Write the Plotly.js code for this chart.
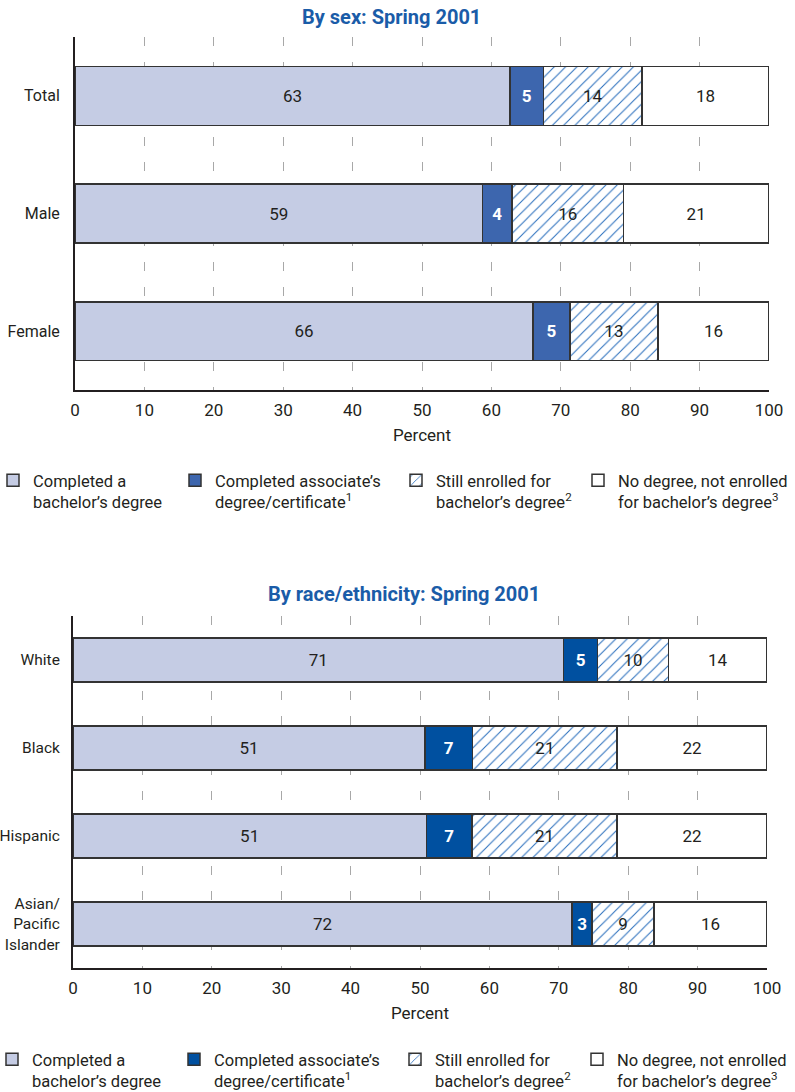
<!DOCTYPE html>
<html>
<head>
<meta charset="utf-8">
<script src="https://cdn.plot.ly/plotly-3.0.1.min.js"></script>
<style>html,body{margin:0;padding:0;background:#fff}#chart{width:795px;height:1092px}</style>
</head>
<body>
<div id="chart"></div>
<script>
// ---- Data ----
var sexCategories = ["Total", "Male", "Female"];
var sexBachelor   = [62.7, 58.7, 66.0];
var sexAssociate  = [4.8, 4.3, 5.3];
var sexEnrolled   = [14.2, 16.0, 12.7];
var sexNone       = [18.3, 21.0, 16.0];

var raceCategories = ["White", "Black", "Hispanic", "Asian/<br>Pacific<br>Islander"];
var raceBachelor   = [70.7, 50.7, 50.9, 71.9];
var raceAssociate  = [4.9, 6.9, 6.6, 2.9];
var raceEnrolled   = [10.2, 20.8, 20.9, 8.9];
var raceNone       = [14.2, 21.6, 21.6, 16.3];

var seriesNames = [
  "Completed a<br>bachelor’s degree",
  "Completed associate’s<br>degree/certificate<sup>1</sup>",
  "Still enrolled for<br>bachelor’s degree<sup>2</sup>",
  "No degree, not enrolled<br>for bachelor’s degree<sup>3</sup>"
];
var xTicks = [0,10,20,30,40,50,60,70,80,90,100];

// ---- Styles ----
var FONT = "Roboto, 'Open Sans', sans-serif";
var TXT = "#231f20";
var OUTLINE = {color: "#333333", width: 1.5};
var bachelorColor = "#c5cce4";
var assocColorTop = "#3d66ae";
var assocColorBottom = "#0050a0";
var hatchColor = "#2a6fbd";

function makeTraces(cats, vals, xa, ya, assocColor, legendIds) {
  var fills = [
    {color: bachelorColor, line: OUTLINE},
    {color: assocColor, line: OUTLINE},
    {color: "#ffffff", line: OUTLINE, pattern: {shape: "/", fgcolor: hatchColor, bgcolor: "#ffffff", size: 8, solidity: 0.13, fillmode: "replace"}},
    {color: "#ffffff", line: OUTLINE}
  ];
  var textColors = [TXT, "#ffffff", TXT, TXT];
  return vals.map(function (v, i) {
    return {
      type: "bar", orientation: "h",
      y: cats, x: v,
      xaxis: xa, yaxis: ya,
      name: seriesNames[i],
      legend: legendIds[i],
      marker: fills[i],
      texttemplate: "%{x:.0f}",
      textposition: "inside",
      insidetextanchor: "middle",
      textangle: 0,
      constraintext: "none",
      textfont: {family: FONT, size: 17, color: textColors[i], weight: i === 1 ? 700 : 400},
      hoverinfo: "skip"
    };
  });
}

var traces = [].concat(
  makeTraces(sexCategories, [sexBachelor, sexAssociate, sexEnrolled, sexNone], "x", "y", assocColorTop,
             ["legend", "legend2", "legend3", "legend4"]),
  makeTraces(raceCategories, [raceBachelor, raceAssociate, raceEnrolled, raceNone], "x2", "y2", assocColorBottom,
             ["legend5", "legend6", "legend7", "legend8"])
);

function xAxis(domain, anchor) {
  return {
    domain: domain, anchor: anchor, range: [0, 100],
    tickvals: xTicks, ticktext: xTicks.map(String),
    showgrid: true, gridcolor: "#a8a8a8", gridwidth: 1, griddash: "9px,16px",
    zeroline: false, showline: true, linecolor: "#231f20", linewidth: 2,
    ticks: "", ticklabelstandoff: 4,
    tickfont: {family: FONT, size: 17, color: TXT},
    title: {text: "Percent", font: {family: FONT, size: 17, color: TXT}, standoff: 10},
    automargin: false,
    fixedrange: true
  };
}
function yAxis(domain, anchor, fontSize, standoff) {
  return {
    domain: domain, anchor: anchor, autorange: "reversed",
    showgrid: false, zeroline: false, showline: true, linecolor: "#231f20", linewidth: 2,
    ticks: "", ticklabelstandoff: standoff,
    tickfont: {family: FONT, size: fontSize, color: TXT},
    automargin: false,
    fixedrange: true
  };
}

var W = 795, H = 1092;
function px(x) { return x / W; }
function py(y) { return (H - y) / H; }

function legendAt(x, y) {
  return {
    x: px(x), y: py(y), xanchor: "left", yanchor: "top",
    bgcolor: "rgba(0,0,0,0)", borderwidth: 0, valign: "top",
    font: {family: FONT, size: 16.5, color: TXT},
    itemclick: false, itemdoubleclick: false, tracegroupgap: 0
  };
}

var layout = {
  width: W, height: H,
  margin: {l: 0, r: 0, t: 0, b: 0, autoexpand: false},
  paper_bgcolor: "#ffffff", plot_bgcolor: "rgba(0,0,0,0)",
  barmode: "stack", bargap: 0.5,
  showlegend: true,
  xaxis: xAxis([px(75), px(769)], "y"),
  yaxis: yAxis([py(390), py(37)], "x", 16, 10),
  xaxis2: xAxis([px(73), px(767)], "y2"),
  yaxis2: yAxis([py(968), py(616)], "x2", 15.5, 8),
  legend: legendAt(-7, 463), legend2: legendAt(175, 463), legend3: legendAt(396, 463), legend4: legendAt(578, 463),
  legend5: legendAt(-8, 1042), legend6: legendAt(174, 1042), legend7: legendAt(395, 1042), legend8: legendAt(577, 1042),
  annotations: [
    {text: "By sex: Spring 2001", xref: "paper", yref: "paper", x: px(391), y: py(17), xanchor: "center", yanchor: "middle",
     showarrow: false, font: {family: FONT, size: 20, color: "#1a5ca8", weight: 700}},
    {text: "By race/ethnicity: Spring 2001", xref: "paper", yref: "paper", x: px(404), y: py(594), xanchor: "center", yanchor: "middle",
     showarrow: false, font: {family: FONT, size: 20, color: "#1a5ca8", weight: 700}}
  ]
};

Plotly.newPlot("chart", traces, layout, {staticPlot: true, displayModeBar: false});
</script>
</body>
</html>
